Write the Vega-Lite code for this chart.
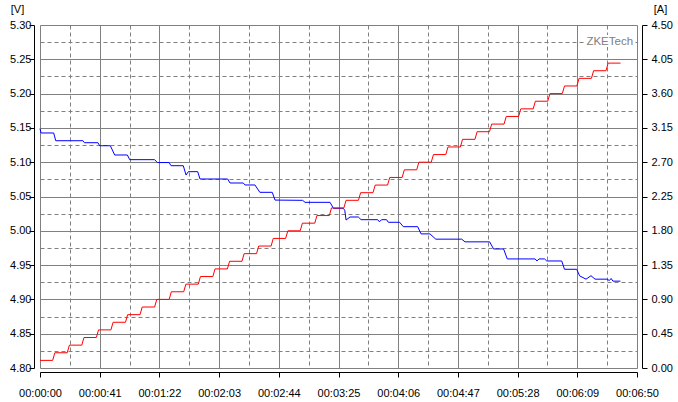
{
  "$schema": "https://vega.github.io/schema/vega-lite/v6.json",
  "width": 597,
  "height": 343,
  "autosize": {"type": "none"},
  "padding": {"left": 40, "top": 25, "right": 41, "bottom": 34},
  "background": "white",
  "config": {
    "view": {"stroke": null},
    "axis": {
      "labelFont": "Liberation Sans", "labelFontSize": 11, "labelColor": "#000000",
      "titleFont": "Liberation Sans", "titleFontSize": 11, "titleFontWeight": "normal", "titleColor": "#000000",
      "domainColor": "#000000", "tickColor": "#000000", "gridColor": "#808080", "gridOpacity": 1, "gridWidth": 1,
      "tickSize": 5, "domainWidth": 1, "tickWidth": 1, "labelFlush": false, "labelOverlap": false, "labelBound": false
    }
  },
  "datasets": {
    "volt": [
      {"t": 0, "v": 5.149}, {"t": 0.7, "v": 5.1426}, {"t": 9.4, "v": 5.1426}, {"t": 10.8, "v": 5.1313},
      {"t": 29.5, "v": 5.1313}, {"t": 30.5, "v": 5.1284}, {"t": 39.8, "v": 5.1284}, {"t": 41.0, "v": 5.124},
      {"t": 48.3, "v": 5.124}, {"t": 51.3, "v": 5.1105}, {"t": 60.0, "v": 5.1105}, {"t": 61.6, "v": 5.1037},
      {"t": 78.7, "v": 5.1037}, {"t": 80.6, "v": 5.0995}, {"t": 88.6, "v": 5.0995}, {"t": 90.0, "v": 5.0949},
      {"t": 98.4, "v": 5.0949}, {"t": 100.3, "v": 5.0813}, {"t": 101.9, "v": 5.0862}, {"t": 108.3, "v": 5.0862},
      {"t": 109.9, "v": 5.0755}, {"t": 128.9, "v": 5.0755}, {"t": 130.5, "v": 5.0697}, {"t": 139.6, "v": 5.0697},
      {"t": 140.8, "v": 5.0668}, {"t": 147.6, "v": 5.0668}, {"t": 151.0, "v": 5.0561}, {"t": 159.5, "v": 5.0561},
      {"t": 161.4, "v": 5.0448}, {"t": 180.4, "v": 5.0444}, {"t": 182.0, "v": 5.0415}, {"t": 199.2, "v": 5.0415},
      {"t": 201.5, "v": 5.0328}, {"t": 208.3, "v": 5.0328}, {"t": 209.3, "v": 5.0299}, {"t": 210.2, "v": 5.0157},
      {"t": 212.9, "v": 5.0201}, {"t": 218.6, "v": 5.0201}, {"t": 220.5, "v": 5.0162}, {"t": 231.9, "v": 5.0162},
      {"t": 233.0, "v": 5.0133}, {"t": 234.7, "v": 5.0162}, {"t": 238.0, "v": 5.0162}, {"t": 239.2, "v": 5.0124},
      {"t": 247.0, "v": 5.0124}, {"t": 249.5, "v": 5.006}, {"t": 259.4, "v": 5.006}, {"t": 261.7, "v": 4.9955},
      {"t": 267.8, "v": 4.9955}, {"t": 271.8, "v": 4.9878}, {"t": 289.6, "v": 4.9878}, {"t": 291.9, "v": 4.9839},
      {"t": 308.8, "v": 4.9839}, {"t": 311.5, "v": 4.9735}, {"t": 318.4, "v": 4.9735}, {"t": 320.9, "v": 4.959},
      {"t": 340.0, "v": 4.959}, {"t": 341.3, "v": 4.956}, {"t": 342.7, "v": 4.959}, {"t": 346.5, "v": 4.959},
      {"t": 348.0, "v": 4.956}, {"t": 358.3, "v": 4.956}, {"t": 360.2, "v": 4.9439}, {"t": 368.6, "v": 4.9439},
      {"t": 370.6, "v": 4.9343}, {"t": 375.0, "v": 4.9295}, {"t": 378.4, "v": 4.9345}, {"t": 381.2, "v": 4.9295},
      {"t": 389.5, "v": 4.9295}, {"t": 391.0, "v": 4.9275}, {"t": 392.2, "v": 4.9305}, {"t": 393.5, "v": 4.9266},
      {"t": 398.6, "v": 4.9266}
    ],
    "amp": [
      {"t": 0, "i": 0.1}, {"t": 8.7, "i": 0.1},
      {"t": 10.2, "i": 0.2}, {"t": 18.7, "i": 0.2},
      {"t": 20.2, "i": 0.3}, {"t": 28.7, "i": 0.3},
      {"t": 30.2, "i": 0.4}, {"t": 38.7, "i": 0.4},
      {"t": 40.2, "i": 0.5}, {"t": 48.7, "i": 0.5},
      {"t": 50.2, "i": 0.6}, {"t": 58.7, "i": 0.6},
      {"t": 60.2, "i": 0.7}, {"t": 68.7, "i": 0.7},
      {"t": 70.2, "i": 0.8}, {"t": 78.7, "i": 0.8},
      {"t": 80.2, "i": 0.9}, {"t": 88.7, "i": 0.9},
      {"t": 90.2, "i": 1.0}, {"t": 98.7, "i": 1.0},
      {"t": 100.2, "i": 1.1}, {"t": 108.7, "i": 1.1},
      {"t": 110.2, "i": 1.2}, {"t": 118.7, "i": 1.2},
      {"t": 120.2, "i": 1.3}, {"t": 128.7, "i": 1.3},
      {"t": 130.2, "i": 1.4}, {"t": 138.7, "i": 1.4},
      {"t": 140.2, "i": 1.5}, {"t": 148.7, "i": 1.5},
      {"t": 150.2, "i": 1.6}, {"t": 158.7, "i": 1.6},
      {"t": 160.2, "i": 1.7}, {"t": 168.7, "i": 1.7},
      {"t": 170.2, "i": 1.8}, {"t": 178.7, "i": 1.8},
      {"t": 180.2, "i": 1.9}, {"t": 188.7, "i": 1.9},
      {"t": 190.2, "i": 2.0}, {"t": 198.7, "i": 2.0},
      {"t": 200.2, "i": 2.1}, {"t": 208.7, "i": 2.1},
      {"t": 210.2, "i": 2.2}, {"t": 218.7, "i": 2.2},
      {"t": 220.2, "i": 2.3}, {"t": 228.7, "i": 2.3},
      {"t": 230.2, "i": 2.4}, {"t": 238.7, "i": 2.4},
      {"t": 240.2, "i": 2.5}, {"t": 248.7, "i": 2.5},
      {"t": 250.2, "i": 2.6}, {"t": 258.7, "i": 2.6},
      {"t": 260.2, "i": 2.7}, {"t": 268.7, "i": 2.7},
      {"t": 270.2, "i": 2.8}, {"t": 278.7, "i": 2.8},
      {"t": 280.2, "i": 2.9}, {"t": 288.7, "i": 2.9},
      {"t": 290.2, "i": 3.0}, {"t": 298.7, "i": 3.0},
      {"t": 300.2, "i": 3.1}, {"t": 308.7, "i": 3.1},
      {"t": 310.2, "i": 3.2}, {"t": 318.7, "i": 3.2},
      {"t": 320.2, "i": 3.3}, {"t": 328.7, "i": 3.3},
      {"t": 330.2, "i": 3.4}, {"t": 338.7, "i": 3.4},
      {"t": 340.2, "i": 3.5}, {"t": 348.7, "i": 3.5},
      {"t": 350.2, "i": 3.6}, {"t": 358.7, "i": 3.6},
      {"t": 360.2, "i": 3.7}, {"t": 368.7, "i": 3.7},
      {"t": 370.2, "i": 3.8}, {"t": 378.7, "i": 3.8},
      {"t": 380.2, "i": 3.9}, {"t": 388.7, "i": 3.9},
      {"t": 390.2, "i": 4.0}, {"t": 398.7, "i": 4.0}
    ],
    "brand": [{"t": 407.3, "v": 5.275, "label": "ZKETech"}]
  },
  "layer": [
    {
      "data": {"name": "volt"},
      "mark": {"type": "line", "strokeOpacity": 0},
      "encoding": {
        "x": {"field": "t", "type": "quantitative",
          "scale": {"domain": [0, 410], "nice": false, "zero": false},
          "axis": {"orient": "bottom", "values": [20.5, 61.5, 102.5, 143.5, 184.5, 225.5, 266.5, 307.5, 348.5, 389.5],
            "grid": true, "gridDash": [4, 3], "labels": false, "ticks": false, "domain": false, "title": null}},
        "y": {"field": "v", "type": "quantitative",
          "scale": {"domain": [4.8, 5.3], "nice": false, "zero": false},
          "axis": {"orient": "left", "values": [4.825, 4.875, 4.925, 4.975, 5.025, 5.075, 5.125, 5.175, 5.225, 5.275],
            "grid": true, "gridDash": [4, 3], "labels": false, "ticks": false, "domain": false, "title": null}}
      }
    },
    {
      "data": {"name": "volt"},
      "mark": {"type": "line", "color": "#0000ff", "strokeWidth": 1},
      "encoding": {
        "x": {"field": "t", "type": "quantitative",
          "scale": {"domain": [0, 410], "nice": false, "zero": false},
          "axis": {"orient": "bottom", "values": [0, 41, 82, 123, 164, 205, 246, 287, 328, 369, 410],
            "labelExpr": "utcFormat(datum.value * 1000, '%H:%M:%S')",
            "grid": true, "offset": 4, "labelPadding": 10, "title": null}},
        "y": {"field": "v", "type": "quantitative",
          "scale": {"domain": [4.8, 5.3], "nice": false, "zero": false},
          "axis": {"orient": "left", "values": [4.8, 4.85, 4.9, 4.95, 5.0, 5.05, 5.1, 5.15, 5.2, 5.25, 5.3],
            "format": ".2f", "grid": true, "offset": 6, "labelPadding": -2,
            "title": "[V]", "titleAngle": 0, "titleAlign": "center", "titleBaseline": "middle", "titleX": -17, "titleY": -16}}
      }
    },
    {
      "data": {"name": "amp"},
      "mark": {"type": "line", "color": "#ff0000", "strokeWidth": 1},
      "encoding": {
        "x": {"field": "t", "type": "quantitative",
          "scale": {"domain": [0, 410], "nice": false, "zero": false}, "axis": null},
        "y": {"field": "i", "type": "quantitative",
          "scale": {"domain": [0, 4.5], "nice": false, "zero": false},
          "axis": {"orient": "right", "values": [0, 0.45, 0.9, 1.35, 1.8, 2.25, 2.7, 3.15, 3.6, 4.05, 4.5],
            "format": ".2f", "grid": false, "offset": 5, "labelPadding": 4,
            "title": "[A]", "titleAngle": 0, "titleAlign": "center", "titleBaseline": "middle", "titleX": 18, "titleY": -16}}
      }
    },
    {
      "data": {"name": "brand"},
      "mark": {"type": "text", "align": "right", "baseline": "middle", "font": "Liberation Sans", "fontSize": 11.5,
        "color": "#ffffff", "stroke": "#ffffff", "strokeWidth": 4},
      "encoding": {
        "x": {"field": "t", "type": "quantitative", "scale": {"domain": [0, 410], "nice": false, "zero": false}, "axis": null},
        "y": {"field": "v", "type": "quantitative", "scale": {"domain": [4.8, 5.3], "nice": false, "zero": false}, "axis": null},
        "text": {"field": "label"}
      }
    },
    {
      "data": {"name": "brand"},
      "mark": {"type": "text", "align": "right", "baseline": "middle", "font": "Liberation Sans", "fontSize": 11.5,
        "color": "#808080"},
      "encoding": {
        "x": {"field": "t", "type": "quantitative", "scale": {"domain": [0, 410], "nice": false, "zero": false}, "axis": null},
        "y": {"field": "v", "type": "quantitative", "scale": {"domain": [4.8, 5.3], "nice": false, "zero": false}, "axis": null},
        "text": {"field": "label"}
      }
    }
  ],
  "resolve": {"scale": {"y": "independent"}, "axis": {"x": "independent", "y": "independent"}}
}
